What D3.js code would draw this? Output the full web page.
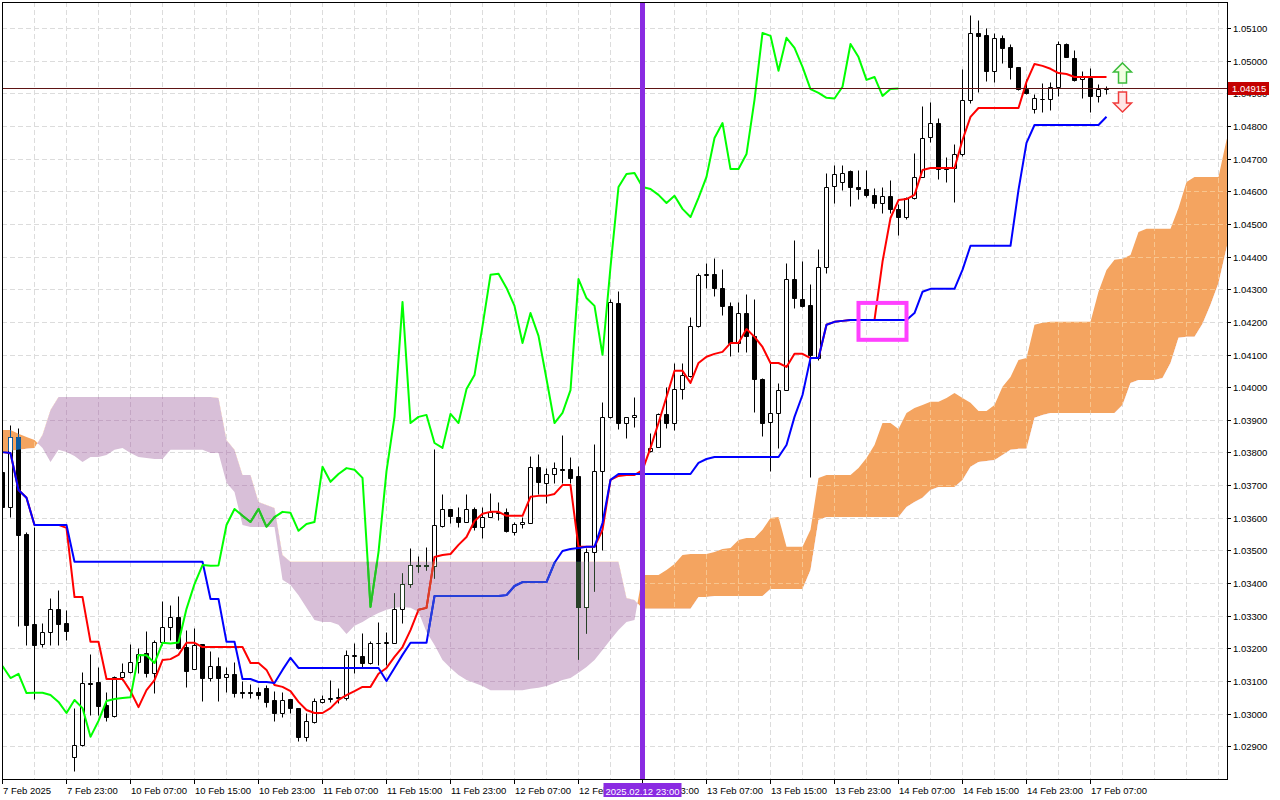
<!DOCTYPE html>
<html>
<head>
<meta charset="utf-8">
<script src="https://d3js.org/d3.v7.min.js"></script>
<style>
html, body { margin: 0; padding: 0; background: #fff; }
svg { display: block; }
text { font-family: "Liberation Sans", Arial, sans-serif; font-size: 9.5px; fill: #000; }
</style>
</head>
<body>
<script>
// EURUSD H1, 7 Feb 15:00 .. 17 Feb 09:00, one value per bar
const opens = [
  1.03740,1.03633,1.03847,1.03550,1.03275,1.03213,1.03250,1.03321,1.03278,1.02867,
  1.02904,1.03094,1.03097,1.03027,1.02993,1.03112,1.03128,1.03158,1.03186,1.03125,
  1.03220,1.03266,1.03296,1.03204,1.03137,1.03213,1.03109,1.03146,1.03112,1.03122,
  1.03066,1.03066,1.03066,1.03079,1.03042,1.03002,1.03045,1.03017,1.02929,1.02974,
  1.03036,1.03045,1.03048,1.03048,1.03177,1.03177,1.03155,1.03217,1.03215,1.03217,
  1.03321,1.03397,1.03455,1.03452,1.03452,1.03575,1.03627,1.03602,1.03587,1.03627,
  1.03572,1.03602,1.03618,1.03618,1.03556,1.03581,1.03584,1.03756,1.03707,1.03734,
  1.03749,1.03749,1.03728,1.03327,1.03495,1.03743,1.03909,1.04258,1.03890,1.03909,
  1.03912,1.03805,1.03817,1.03918,1.03890,1.03994,1.04034,1.04187,1.04344,1.04347,
  1.04304,1.04249,1.04135,1.04227,1.04157,1.04025,1.03893,1.03921,1.03991,1.04331,
  1.04270,1.04252,1.04089,1.04368,1.04616,1.04628,1.04662,1.04613,1.04607,1.04589,
  1.04564,1.04586,1.04546,1.04521,1.04580,1.04644,1.04766,1.04809,1.04674,1.04671,
  1.04714,1.04880,1.05085,1.05079,1.04969,1.05070,1.05042,1.04981,1.04913,1.04852,
  1.04883,1.04883,1.04920,1.05051,1.05008,1.04944,1.04947,1.04892,1.04913
];
const highs = [
  1.03762,1.03884,1.03875,1.03556,1.03572,1.03278,1.03354,1.03379,1.03318,1.03017,
  1.03128,1.03183,1.03143,1.03066,1.03115,1.03155,1.03213,1.03201,1.03253,1.03226,
  1.03345,1.03333,1.03360,1.03256,1.03262,1.03213,1.03192,1.03174,1.03143,1.03158,
  1.03100,1.03091,1.03082,1.03088,1.03069,1.03066,1.03045,1.03017,1.03002,1.03048,
  1.03057,1.03103,1.03079,1.03195,1.03217,1.03247,1.03223,1.03281,1.03250,1.03370,
  1.03431,1.03507,1.03483,1.03511,1.03811,1.03673,1.03627,1.03633,1.03673,1.03633,
  1.03633,1.03676,1.03648,1.03630,1.03587,1.03602,1.03789,1.03795,1.03752,1.03771,
  1.03854,1.03786,1.03759,1.03507,1.03826,1.03955,1.04270,1.04295,1.03909,1.03970,
  1.03930,1.03860,1.03921,1.04001,1.04074,1.04074,1.04215,1.04350,1.04380,1.04396,
  1.04362,1.04261,1.04261,1.04285,1.04270,1.04028,1.04074,1.04013,1.04380,1.04451,
  1.04387,1.04316,1.04423,1.04656,1.04681,1.04681,1.04665,1.04665,1.04665,1.04610,
  1.04613,1.04635,1.04561,1.04583,1.04717,1.04861,1.04874,1.04825,1.04705,1.04745,
  1.04975,1.05140,1.05125,1.05100,1.05085,1.05079,1.05051,1.04981,1.04944,1.04898,
  1.04932,1.04935,1.05060,1.05054,1.05033,1.04969,1.04978,1.04929,1.04923
];
const lows = [
  1.03618,1.03602,1.03269,1.03210,1.03045,1.03204,1.03210,1.03210,1.03226,1.02824,
  1.02901,1.02996,1.02996,1.02978,1.02990,1.03103,1.03125,1.03125,1.03112,1.03063,
  1.03210,1.03226,1.03198,1.03082,1.03137,1.03039,1.03100,1.03039,1.03066,1.03051,
  1.03048,1.03048,1.03045,1.03020,1.02978,1.02990,1.03002,1.02916,1.02916,1.02971,
  1.03033,1.03036,1.03033,1.03042,1.03125,1.03143,1.03152,1.03149,1.03149,1.03217,
  1.03278,1.03388,1.03434,1.03440,1.03416,1.03572,1.03584,1.03572,1.03587,1.03563,
  1.03538,1.03602,1.03593,1.03556,1.03547,1.03569,1.03584,1.03673,1.03645,1.03707,
  1.03707,1.03707,1.03167,1.03247,1.03376,1.03501,1.03906,1.03872,1.03844,1.03878,
  1.03817,1.03801,1.03817,1.03875,1.03869,1.03964,1.04031,1.04184,1.04304,1.04279,
  1.04221,1.04096,1.04108,1.04108,1.03924,1.03851,1.03743,1.03814,1.03991,1.04243,
  1.04246,1.03725,1.04083,1.04350,1.04564,1.04604,1.04555,1.04576,1.04583,1.04549,
  1.04534,1.04534,1.04466,1.04515,1.04576,1.04644,1.04751,1.04638,1.04628,1.04567,
  1.04708,1.04871,1.04904,1.04938,1.04935,1.04993,1.04944,1.04910,1.04898,1.04840,
  1.04843,1.04849,1.04892,1.05011,1.04938,1.04886,1.04843,1.04874,1.04898
];
const closes = [
  1.03633,1.03847,1.03547,1.03272,1.03210,1.03250,1.03321,1.03275,1.03253,1.02904,
  1.03094,1.03091,1.03023,1.02990,1.03112,1.03128,1.03158,1.03183,1.03125,1.03220,
  1.03266,1.03296,1.03201,1.03131,1.03210,1.03109,1.03146,1.03109,1.03122,1.03063,
  1.03064,1.03064,1.03057,1.03036,1.03002,1.03042,1.03017,1.02929,1.02978,1.03039,
  1.03045,1.03048,1.03050,1.03180,1.03179,1.03155,1.03217,1.03215,1.03218,1.03321,
  1.03397,1.03455,1.03453,1.03454,1.03578,1.03627,1.03606,1.03587,1.03627,1.03572,
  1.03602,1.03618,1.03615,1.03560,1.03581,1.03587,1.03756,1.03710,1.03734,1.03752,
  1.03747,1.03722,1.03327,1.03495,1.03743,1.03909,1.04261,1.03890,1.03909,1.03915,
  1.03829,1.03814,1.03918,1.03890,1.03994,1.04037,1.04187,1.04344,1.04347,1.04304,
  1.04249,1.04135,1.04227,1.04157,1.04025,1.03890,1.03921,1.03991,1.04331,1.04273,
  1.04249,1.04099,1.04368,1.04613,1.04653,1.04656,1.04613,1.04607,1.04589,1.04564,
  1.04586,1.04546,1.04521,1.04580,1.04644,1.04763,1.04809,1.04668,1.04668,1.04714,
  1.04880,1.05085,1.05076,1.04969,1.05070,1.05039,1.04981,1.04913,1.04901,1.04886,
  1.04884,1.04920,1.05051,1.05011,1.04941,1.04950,1.04892,1.04913,1.04915
];

// Tenkan-sen (red) and Kijun-sen (blue), one value per bar
const tenkan = [
  1.03801,1.03798,1.03685,1.03661,1.03578,1.03578,1.03578,1.03578,1.03569,1.03357,
  1.03357,1.03220,1.03220,1.03106,1.03106,1.03106,1.03069,1.03020,1.03072,1.03103,
  1.03164,1.03167,1.03180,1.03217,1.03217,1.03204,1.03204,1.03204,1.03204,1.03204,
  1.03204,1.03155,1.03155,1.03134,1.03088,1.03082,1.03069,1.03036,1.03011,1.03002,
  1.03002,1.03017,1.03042,1.03057,1.03069,1.03082,1.03082,1.03122,1.03140,1.03174,
  1.03204,1.03256,1.03318,1.03324,1.03480,1.03486,1.03489,1.03517,1.03541,1.03590,
  1.03612,1.03618,1.03618,1.03606,1.03606,1.03606,1.03664,1.03667,1.03667,1.03673,
  1.03700,1.03700,1.03511,1.03511,1.03511,1.03563,1.03716,1.03728,1.03731,1.03731,
  1.03746,1.03814,1.03890,1.03970,1.04050,1.04050,1.04013,1.04074,1.04093,1.04102,
  1.04108,1.04135,1.04135,1.04178,1.04154,1.04123,1.04074,1.04074,1.04062,1.04102,
  1.04102,1.04089,1.04089,1.04191,1.04200,1.04203,1.04206,1.04206,1.04206,1.04206,
  1.04384,1.04518,1.04573,1.04576,1.04589,1.04665,1.04671,1.04671,1.04671,1.04671,
  1.04757,1.04828,1.04855,1.04855,1.04855,1.04855,1.04855,1.04855,1.04935,1.04990,
  1.04984,1.04975,1.04962,1.04959,1.04950,1.04950,1.04950,1.04950,1.04950
];
const kijun = [
  1.03801,1.03798,1.03685,1.03661,1.03578,1.03578,1.03578,1.03578,1.03578,1.03465,
  1.03465,1.03465,1.03465,1.03465,1.03465,1.03465,1.03465,1.03465,1.03465,1.03465,
  1.03465,1.03465,1.03465,1.03465,1.03465,1.03465,1.03351,1.03351,1.03220,1.03220,
  1.03106,1.03106,1.03097,1.03097,1.03094,1.03134,1.03171,1.03140,1.03140,1.03140,
  1.03140,1.03140,1.03140,1.03140,1.03140,1.03140,1.03140,1.03140,1.03100,1.03140,
  1.03180,1.03217,1.03217,1.03217,1.03360,1.03360,1.03360,1.03360,1.03360,1.03360,
  1.03360,1.03360,1.03360,1.03363,1.03391,1.03403,1.03403,1.03403,1.03403,1.03462,
  1.03498,1.03504,1.03507,1.03511,1.03511,1.03584,1.03716,1.03734,1.03734,1.03734,
  1.03734,1.03734,1.03734,1.03734,1.03734,1.03734,1.03734,1.03768,1.03780,1.03786,
  1.03786,1.03786,1.03786,1.03786,1.03786,1.03786,1.03786,1.03786,1.03823,1.03909,
  1.03976,1.04089,1.04089,1.04191,1.04200,1.04203,1.04206,1.04206,1.04206,1.04206,
  1.04206,1.04206,1.04206,1.04206,1.04227,1.04292,1.04301,1.04301,1.04301,1.04301,
  1.04359,1.04433,1.04433,1.04433,1.04433,1.04433,1.04433,1.04604,1.04748,1.04803,
  1.04803,1.04803,1.04803,1.04803,1.04803,1.04803,1.04803,1.04803,1.04828
];
// Chikou span is the close drawn this many bars back
const chikouShift = 26;

// Senkou span A / B, starting one bar before the first candle
const cloudStart = -1;
const spanA = [
  1.03860,1.03869,1.03869,1.03857,1.03847,1.03838,1.03814,1.03771,1.03808,1.03801,
  1.03789,1.03771,1.03786,1.03786,1.03792,1.03808,1.03814,1.03798,1.03786,1.03783,
  1.03780,1.03780,1.03808,1.03808,1.03808,1.03808,1.03808,1.03798,1.03798,1.03707,
  1.03679,1.03578,1.03572,1.03572,1.03572,1.03572,1.03410,1.03394,1.03363,1.03324,
  1.03287,1.03281,1.03281,1.03272,1.03244,1.03269,1.03281,1.03296,1.03308,1.03318,
  1.03324,1.03327,1.03324,1.03311,1.03250,1.03210,1.03164,1.03140,1.03118,1.03103,
  1.03094,1.03085,1.03072,1.03072,1.03072,1.03072,1.03072,1.03076,1.03079,1.03085,
  1.03094,1.03103,1.03109,1.03125,1.03143,1.03164,1.03195,1.03226,1.03256,1.03281,
  1.03287,1.03425,1.03425,1.03425,1.03440,1.03458,1.03486,1.03489,1.03489,1.03489,
  1.03495,1.03504,1.03507,1.03532,1.03538,1.03538,1.03563,1.03599,1.03602,1.03511,
  1.03511,1.03511,1.03563,1.03722,1.03731,1.03731,1.03731,1.03731,1.03752,1.03783,
  1.03823,1.03890,1.03890,1.03872,1.03921,1.03936,1.03945,1.03955,1.03955,1.03967,
  1.03982,1.03967,1.03952,1.03927,1.03927,1.03945,1.04001,1.04031,1.04083,1.04089,
  1.04191,1.04197,1.04200,1.04200,1.04200,1.04200,1.04200,1.04200,1.04292,1.04359,
  1.04390,1.04393,1.04405,1.04475,1.04485,1.04485,1.04485,1.04485,1.04549,1.04628,
  1.04644,1.04644,1.04644,1.04644,1.04757,1.04834
];
const spanB = [
  1.03722,1.03801,1.03805,1.03808,1.03811,1.03814,1.03854,1.03930,1.03970,1.03970,
  1.03970,1.03970,1.03970,1.03970,1.03970,1.03970,1.03970,1.03970,1.03970,1.03970,
  1.03970,1.03970,1.03970,1.03970,1.03970,1.03970,1.03970,1.03970,1.03967,1.03838,
  1.03808,1.03731,1.03731,1.03648,1.03639,1.03630,1.03486,1.03465,1.03465,1.03465,
  1.03465,1.03465,1.03465,1.03465,1.03465,1.03465,1.03465,1.03465,1.03465,1.03465,
  1.03465,1.03465,1.03465,1.03465,1.03465,1.03465,1.03465,1.03465,1.03465,1.03465,
  1.03465,1.03465,1.03465,1.03465,1.03465,1.03465,1.03465,1.03465,1.03465,1.03465,
  1.03465,1.03465,1.03465,1.03465,1.03465,1.03465,1.03465,1.03465,1.03465,1.03354,
  1.03348,1.03321,1.03321,1.03321,1.03321,1.03321,1.03321,1.03321,1.03357,1.03357,
  1.03360,1.03360,1.03360,1.03360,1.03360,1.03360,1.03360,1.03382,1.03382,1.03382,
  1.03382,1.03382,1.03440,1.03593,1.03602,1.03602,1.03602,1.03602,1.03602,1.03602,
  1.03602,1.03602,1.03602,1.03602,1.03633,1.03648,1.03661,1.03685,1.03694,1.03694,
  1.03694,1.03716,1.03756,1.03771,1.03774,1.03777,1.03792,1.03808,1.03811,1.03811,
  1.03906,1.03915,1.03921,1.03921,1.03921,1.03921,1.03921,1.03921,1.03921,1.03921,
  1.03921,1.03945,1.04013,1.04022,1.04022,1.04022,1.04028,1.04074,1.04151,1.04154,
  1.04154,1.04194,1.04252,1.04319,1.04426,1.04527
];

const priceTicks = [1.029,1.030,1.031,1.032,1.033,1.034,1.035,1.036,1.037,1.038,1.039,1.040,
  1.041,1.042,1.043,1.044,1.045,1.046,1.047,1.048,1.049,1.050,1.051];
const timeTickBars = [0,8,16,24,32,40,48,56,64,72,80,88,96,104,112,120,128,136];
const timeLabels = ["7 Feb 2025","7 Feb 23:00","10 Feb 07:00","10 Feb 15:00","10 Feb 23:00",
  "11 Feb 07:00","11 Feb 15:00","11 Feb 23:00","12 Feb 07:00","12 Feb 15:00","12 Feb 23:00",
  "13 Feb 07:00","13 Feb 15:00","13 Feb 23:00","14 Feb 07:00","14 Feb 15:00","14 Feb 23:00","17 Feb 07:00"];

const bidPrice = 1.04915;
const markerBar = 80;
const markerLabel = "2025.02.12 23:00";
const box = {bar1: 107, bar2: 113, price1: 1.04258, price2: 1.04145};
const arrows = [{bar: 140, price: 1.04993, dir: "up"}, {bar: 140, price: 1.04843, dir: "down"}];

const width = 1280, height = 800;
const plot = {left: 2, top: 2, right: 1227, bottom: 779};

const x = d3.scaleLinear().domain([0, 153]).range([2.5, 1226.5]);
const y = d3.scaleLinear().domain([1.029, 1.051]).range([746.3, 28]);
const py = v => Math.round(y(v)) + 0.5;

const svg = d3.select("body").append("svg")
    .attr("width", width)
    .attr("height", height);
svg.append("rect").attr("width", width).attr("height", height).attr("fill", "#fff");

const defs = svg.append("defs");
defs.append("clipPath").attr("id", "plotClip").append("rect")
    .attr("x", plot.left).attr("y", plot.top)
    .attr("width", plot.right - plot.left).attr("height", plot.bottom - plot.top);

const cloud = spanA.map((a, k) => ({i: k + cloudStart, a: a, b: spanB[k]}));
const between = d3.area().x(d => x(d.i)).y0(d => y(d.a)).y1(d => y(d.b));
defs.append("clipPath").attr("id", "aboveB").append("path")
    .attr("d", d3.area().x(d => x(d.i)).y0(0).y1(d => y(d.b))(cloud));
defs.append("clipPath").attr("id", "belowB").append("path")
    .attr("d", d3.area().x(d => x(d.i)).y0(d => y(d.b)).y1(height)(cloud));
defs.append("clipPath").attr("id", "between").append("path")
    .attr("d", between(cloud));

const chart = svg.append("g").attr("clip-path", "url(#plotClip)");

// cloud
chart.append("g").attr("clip-path", "url(#aboveB)")
    .append("path").attr("d", between(cloud)).attr("fill", "#f4a460");
chart.append("g").attr("clip-path", "url(#belowB)")
    .append("path").attr("d", between(cloud)).attr("fill", "#d8bfd8");

function drawGrid(g, color) {
    g.selectAll(null).data(priceTicks).join("line")
        .attr("x1", plot.left).attr("x2", plot.right)
        .attr("y1", d => py(d)).attr("y2", d => py(d))
        .attr("stroke", color).attr("stroke-dasharray", "5,3");
    g.selectAll(null).data(d3.range(0, 154, 4)).join("line")
        .attr("x1", d => x(d)).attr("x2", d => x(d))
        .attr("y1", plot.top).attr("y2", plot.bottom)
        .attr("stroke", color).attr("stroke-dasharray", "5,3");
}

function drawCandles(g, ink, whiteFill) {
    const bars = d3.range(opens.length);
    const top = i => py(Math.max(opens[i], closes[i]));
    const bot = i => py(Math.min(opens[i], closes[i]));
    g.selectAll(null).data(bars).join("path")
        .attr("d", i => `M${x(i)},${py(highs[i])}V${top(i)}M${x(i)},${bot(i)}V${py(lows[i])}`)
        .attr("stroke", ink).attr("fill", "none");
    g.selectAll(null).data(bars).join("path")
        .attr("d", i => `M${x(i) - 2},${top(i)}H${x(i) + 2}V${bot(i)}H${x(i) - 2}Z`)
        .attr("fill", i => closes[i] >= opens[i] ? whiteFill : ink)
        .attr("stroke", ink);
}

const line = d3.line().x((d, i) => x(i)).y(d => y(d));
function drawLines(g, c) {
    [[tenkan, c.red], [kijun, c.blue], [closes.slice(chikouShift), c.green]].forEach(([data, col]) => {
        g.append("path").datum(data).attr("d", line)
            .attr("fill", "none").attr("stroke", col)
            .attr("stroke-width", 2).attr("stroke-linejoin", "round");
    });
}

// cloud is painted in xor mode in the terminal: recolour what lies inside it
const inPurple = () => chart.append("g").attr("clip-path", "url(#belowB)")
    .append("g").attr("clip-path", "url(#between)");
const inOrange = () => chart.append("g").attr("clip-path", "url(#aboveB)")
    .append("g").attr("clip-path", "url(#between)");

drawGrid(chart.append("g"), "#dcdcdc");
drawGrid(inPurple(), "#c4a6c4");
drawGrid(inOrange(), "#f8c58e");

drawCandles(chart.append("g"), "#000", "#fff");
drawLines(chart.append("g"), {red: "#ff0000", blue: "#0000ff", green: "#00ff00"});

const pg = inPurple();
drawCandles(pg, "rgb(39,64,39)", "none");
drawLines(pg, {red: "rgb(216,64,39)", blue: "rgb(39,64,216)", green: "rgb(39,191,39)"});
const og = inOrange();
drawCandles(og, "rgb(11,91,159)", "none");
drawLines(og, {red: "rgb(244,91,159)", blue: "rgb(11,91,96)", green: "rgb(11,164,159)"});

// bid line
chart.append("line")
    .attr("x1", plot.left).attr("x2", plot.right)
    .attr("y1", py(bidPrice)).attr("y2", py(bidPrice))
    .attr("stroke", "#5e1414");

// vertical marker
chart.append("line")
    .attr("x1", x(markerBar)).attr("x2", x(markerBar))
    .attr("y1", plot.top).attr("y2", plot.bottom)
    .attr("stroke", "#8a2be2").attr("stroke-width", 5);

// rectangle object
chart.append("rect")
    .attr("x", x(box.bar1)).attr("y", y(box.price1))
    .attr("width", x(box.bar2) - x(box.bar1)).attr("height", y(box.price2) - y(box.price1))
    .attr("fill", "none").attr("stroke", "#ff40ff").attr("stroke-width", 4);

// arrows
arrows.forEach(a => {
    const s = a.dir === "up" ? 1 : -1;
    const pts = [[0, 0], [9, 9], [4, 9], [4, 20], [-4, 20], [-4, 9], [-9, 9]]
        .map(([dx, dy]) => [x(a.bar) + dx, y(a.price) + s * dy]);
    chart.append("path")
        .attr("d", "M" + pts.join("L") + "Z")
        .attr("fill", a.dir === "up" ? "#f2ffe2" : "#ffe6e6")
        .attr("stroke", a.dir === "up" ? "#3cbc3c" : "#f03c3c")
        .attr("stroke-width", 1.5);
});

// frame
svg.append("rect")
    .attr("x", plot.left + 0.5).attr("y", plot.top + 0.5)
    .attr("width", plot.right - plot.left).attr("height", plot.bottom - plot.top)
    .attr("fill", "none").attr("stroke", "#000");

// price scale
const pAxis = svg.append("g");
pAxis.selectAll(null).data(priceTicks).join("line")
    .attr("x1", plot.right).attr("x2", plot.right + 4)
    .attr("y1", d => py(d)).attr("y2", d => py(d))
    .attr("stroke", "#000");
pAxis.selectAll(null).data(priceTicks).join("text")
    .attr("x", plot.right + 6).attr("y", d => py(d) + 3.5)
    .text(d => d.toFixed(5));

pAxis.append("rect")
    .attr("x", plot.right + 1).attr("y", py(bidPrice) - 6.5)
    .attr("width", 41).attr("height", 13)
    .attr("fill", "#c40000");
pAxis.append("text")
    .attr("x", plot.right + 5).attr("y", py(bidPrice) + 3.5)
    .style("fill", "#fff")
    .text(bidPrice.toFixed(5));

// time scale
const tAxis = svg.append("g");
tAxis.selectAll(null).data(timeTickBars).join("line")
    .attr("x1", d => x(d)).attr("x2", d => x(d))
    .attr("y1", plot.bottom).attr("y2", plot.bottom + 5)
    .attr("stroke", "#000");
tAxis.selectAll(null).data(timeTickBars).join("text")
    .attr("x", d => x(d) + 0.5).attr("y", 794)
    .text((d, i) => timeLabels[i]);

tAxis.append("rect")
    .attr("x", x(markerBar) - 39).attr("y", plot.bottom + 4)
    .attr("width", 78).attr("height", 14)
    .attr("fill", "#8a2be2");
tAxis.append("text")
    .attr("x", x(markerBar)).attr("y", 794.5)
    .attr("text-anchor", "middle")
    .style("fill", "#fff")
    .text(markerLabel);
</script>
</body>
</html>
